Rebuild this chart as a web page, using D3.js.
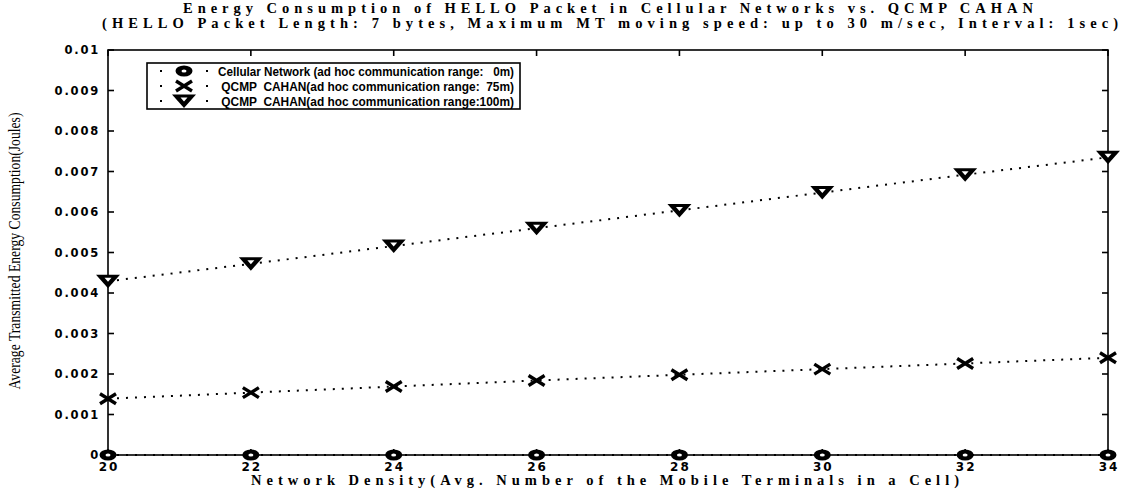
<!DOCTYPE html>
<html>
<head>
<meta charset="utf-8">
<script src="https://cdn.jsdelivr.net/npm/d3@7"></script>
<style>
  html, body { margin: 0; padding: 0; background: #fff; }
  svg { display: block; }
  text { fill: #000; }
</style>
</head>
<body>
<svg id="chart" width="1122" height="490"></svg>
<script>
// Network density (avg. number of mobile terminals per cell)
const density = [20, 22, 24, 26, 28, 30, 32, 34];

// Average transmitted energy consumption (Joules)
const cellular   = [0, 0, 0, 0, 0, 0, 0, 0];
const cahan75    = [0.00139, 0.00154, 0.00169, 0.00184, 0.00198, 0.00212, 0.00226, 0.00240];
const cahan100   = [0.00429, 0.00472, 0.00516, 0.00560, 0.00604, 0.00648, 0.00692, 0.00735];

const xTicks = [20, 22, 24, 26, 28, 30, 32, 34];
const yTicks = [0, 0.001, 0.002, 0.003, 0.004, 0.005, 0.006, 0.007, 0.008, 0.009, 0.01];
const yTickLabels = ["0", "0.001", "0.002", "0.003", "0.004", "0.005", "0.006", "0.007", "0.008", "0.009", "0.01"];

const seriesNames = [
  "Cellular Network (ad hoc communication range:   0m)",
  " QCMP  CAHAN(ad hoc communication range:  75m)",
  " QCMP  CAHAN(ad hoc communication range:100m)"
];

const titleLines = [
  "Energy Consumption of HELLO Packet in Cellular Networks vs. QCMP CAHAN",
  "(HELLO Packet Length: 7 bytes, Maximum MT moving speed: up to 30 m/sec, Interval: 1sec)"
];
const xLabel = "Network Density(Avg. Number of the Mobile Terminals in a Cell)";
const yLabel = "Average Transmitted Energy Consumption(Joules)";

const svg = d3.select("#chart");
const plot = { left: 108, right: 1108, top: 50, bottom: 455 };

const x = d3.scaleLinear().domain([20, 34]).range([plot.left, plot.right]);
const y = d3.scaleLinear().domain([0, 0.01]).range([plot.bottom, plot.top]);

const serif = "'Liberation Serif', 'Times New Roman', serif";
const sans = "'DejaVu Sans', Verdana, sans-serif";
const narrowSans = "'Liberation Sans', Arial, sans-serif";

// Frame and inward ticks on all four sides
const tickLen = 6;
const axisG = svg.append("g").attr("stroke", "#000").attr("stroke-width", 1.6);
axisG.append("rect")
  .attr("x", plot.left).attr("y", plot.top)
  .attr("width", plot.right - plot.left).attr("height", plot.bottom - plot.top)
  .attr("fill", "none");

xTicks.forEach(t => {
  axisG.append("line").attr("x1", x(t)).attr("x2", x(t)).attr("y1", plot.bottom).attr("y2", plot.bottom - tickLen);
  axisG.append("line").attr("x1", x(t)).attr("x2", x(t)).attr("y1", plot.top).attr("y2", plot.top + tickLen);
});
yTicks.forEach(t => {
  axisG.append("line").attr("x1", plot.left).attr("x2", plot.left + tickLen).attr("y1", y(t)).attr("y2", y(t));
  axisG.append("line").attr("x1", plot.right).attr("x2", plot.right - tickLen).attr("y1", y(t)).attr("y2", y(t));
});

// Tick labels
svg.append("g").selectAll("text").data(yTicks).join("text")
  .attr("x", plot.left - 8)
  .attr("y", d => y(d) + 4)
  .attr("text-anchor", "end")
  .attr("font-family", sans).attr("font-size", 11.5).attr("font-weight", "bold")
  .attr("letter-spacing", 1.8)
  .text((d, i) => yTickLabels[i]);

svg.append("g").selectAll("text").data(xTicks).join("text")
  .attr("x", d => x(d) + 1)
  .attr("y", plot.bottom + 16)
  .attr("text-anchor", "middle")
  .attr("font-family", sans).attr("font-size", 12).attr("font-weight", "bold")
  .attr("letter-spacing", 2)
  .text(d => d);

// Titles and axis labels
svg.append("text")
  .attr("x", 608).attr("y", 13).attr("text-anchor", "middle")
  .attr("font-family", serif).attr("font-size", 14.5).attr("font-weight", 600)
  .attr("textLength", 850).attr("lengthAdjust", "spacing")
  .text(titleLines[0]);
svg.append("text")
  .attr("x", 610).attr("y", 28).attr("text-anchor", "middle")
  .attr("font-family", serif).attr("font-size", 14.5).attr("font-weight", 600)
  .attr("textLength", 1016).attr("lengthAdjust", "spacing")
  .text(titleLines[1]);

svg.append("text")
  .attr("x", 605).attr("y", 485).attr("text-anchor", "middle")
  .attr("font-family", serif).attr("font-size", 14.5).attr("font-weight", 600)
  .attr("textLength", 708).attr("lengthAdjust", "spacing")
  .text(xLabel);

svg.append("text")
  .attr("transform", "translate(20,251) rotate(-90)")
  .attr("text-anchor", "middle")
  .attr("font-family", serif).attr("font-size", 17)
  .attr("textLength", 277).attr("lengthAdjust", "spacingAndGlyphs")
  .text(yLabel);

// Marker drawing
function drawMarker(g, kind) {
  if (kind === "circle") {
    g.append("ellipse").attr("rx", 8.5).attr("ry", 5.5).attr("fill", "#000");
    g.append("ellipse").attr("rx", 2.5).attr("ry", 1.6).attr("fill", "#fff");
  } else if (kind === "cross") {
    g.append("path").attr("d", "M-8,-5L8,5M-8,5L8,-5")
      .attr("stroke", "#000").attr("stroke-width", 3.4).attr("fill", "none");
  } else {
    g.append("path").attr("d", "M-12,-6.5L12,-6.5L0,7Z").attr("fill", "#000");
    g.append("path").attr("d", "M-3.5,-3.5L3.5,-3.5L0,0.5Z").attr("fill", "#fff");
  }
}

const series = [
  { values: cellular, marker: "circle" },
  { values: cahan75, marker: "cross" },
  { values: cahan100, marker: "triangle" }
];

const line = d3.line().x((d, i) => x(density[i])).y(d => y(d));

series.forEach(s => {
  svg.append("path")
    .datum(s.values)
    .attr("d", line)
    .attr("fill", "none").attr("stroke", "#000")
    .attr("stroke-width", 2).attr("stroke-dasharray", "2 7");
  s.values.forEach((v, i) => {
    const g = svg.append("g").attr("transform", `translate(${x(density[i])},${y(v)})`);
    drawMarker(g, s.marker);
  });
});

// Legend
const legend = { x0: 147, y0: 63, x1: 520, y1: 109 };
svg.append("rect")
  .attr("x", legend.x0).attr("y", legend.y0)
  .attr("width", legend.x1 - legend.x0).attr("height", legend.y1 - legend.y0)
  .attr("fill", "#fff").attr("stroke", "#000").attr("stroke-width", 1.6);

const rowY = [71, 86, 101];
series.forEach((s, i) => {
  svg.append("line")
    .attr("x1", 160).attr("x2", 208).attr("y1", rowY[i]).attr("y2", rowY[i])
    .attr("stroke", "#000").attr("stroke-width", 2).attr("stroke-dasharray", "2 21");
  const g = svg.append("g").attr("transform", `translate(184,${rowY[i]})`);
  drawMarker(g, s.marker);
  svg.append("text")
    .attr("x", 218).attr("y", rowY[i] + 4.5)
    .attr("font-family", narrowSans).attr("font-size", 12.5).attr("font-weight", "bold")
    .attr("xml:space", "preserve").style("white-space", "pre")
    .attr("textLength", 296).attr("lengthAdjust", "spacingAndGlyphs")
    .text(seriesNames[i]);
});
</script>
</body>
</html>
